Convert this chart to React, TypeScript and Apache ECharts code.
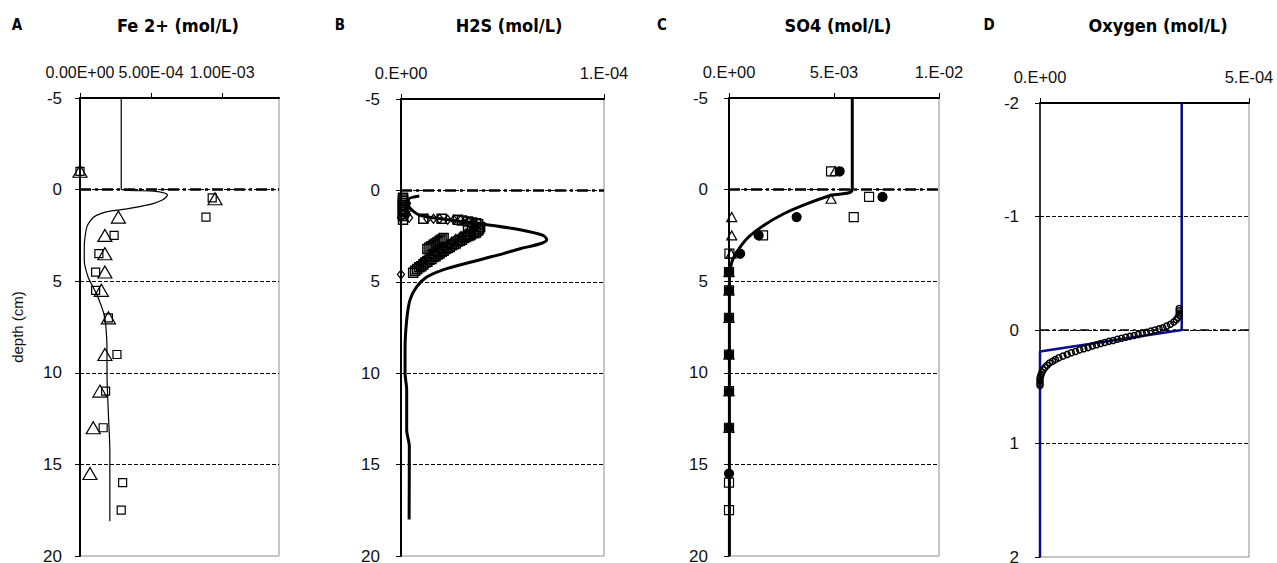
import React, { useEffect, useRef } from "react";
import * as echarts from "echarts";

// ---------- DATA ----------
// Panel A: Fe2+ (concentrations in units of 1e-3 mol/L), depth in cm
const FE_UNIT = 1e-3;
const feLineDepth = [-5, 0, 0.08, 0.2, 0.3, 0.42, 0.57, 0.75, 0.93, 1.05, 1.15, 1.3, 1.52, 1.98, 2.6, 3.2, 3.9, 4.8, 5.7, 7.0, 8.7, 10.1, 12.3, 14.2, 16.0, 18.1];
const feLineConc = [0.29, 0.29, 0.52, 0.6, 0.615, 0.605, 0.58, 0.52, 0.42, 0.33, 0.23, 0.15, 0.093, 0.051, 0.035, 0.03, 0.03, 0.058, 0.117, 0.175, 0.19, 0.19, 0.2, 0.21, 0.21, 0.21];
const feTriDepth = [-1, 0.5, 1.5, 2.5, 3.5, 4.5, 5.5, 7, 9, 11, 13, 15.5];
const feTriConc = [0, 0.95, 0.27, 0.175, 0.175, 0.175, 0.15, 0.2, 0.175, 0.14, 0.093, 0.07];
const feSqDepth = [-1, 0.45, 1.5, 2.5, 3.5, 4.5, 5.5, 7, 9, 11, 13, 16, 17.5];
const feSqConc = [0, 0.93, 0.886, 0.24, 0.133, 0.11, 0.11, 0.2, 0.26, 0.18, 0.163, 0.3, 0.29];

// Panel B: H2S (units of 1e-5 mol/L)
const H2S_UNIT = 1e-5;
const h2sLineConc = [0.9, 0.36, 0.41, 0.94, 2.25, 3.9, 5.86, 7.0, 7.18, 6.85, 5.86, 5.04, 3.9, 2.25, 1.27, 0.77, 0.44, 0.28, 0.2, 0.2, 0.28, 0.28, 0.41, 0.4];
const h2sLineDepth = [0.31, 0.51, 0.91, 1.37, 1.59, 1.83, 2.15, 2.46, 2.7, 2.92, 3.19, 3.46, 3.79, 4.28, 4.74, 5.28, 6.0, 7.1, 8.7, 10.0, 10.9, 13.1, 14.0, 18.0];
const h2sSqConc = [0.1, 0.1, 0.1, 0.1, 0.1, 0.1, 0.1, 0.1, 0.1, 0.1, 0.1, 0.1, 1.1, 2.0, 2.8, 3.0, 3.3, 3.5, 3.7, 3.8, 3.9, 3.85, 3.8, 3.7, 3.6, 3.45, 3.3, 3.2, 3.1, 3.0, 2.9, 2.8, 2.7, 2.6, 2.5, 2.4, 2.3, 2.2, 2.1, 2.0, 1.9, 1.8, 1.7, 1.6, 1.5, 1.4, 1.3, 1.2, 1.1, 1.0, 0.9, 0.8, 0.7, 0.6, 2.1, 2.0, 1.9, 1.8, 1.7, 1.6, 1.5, 1.4, 1.3, 3.5, 3.3, 3.6, 3.4];
const h2sSqDepth = [0.4, 0.5, 0.6, 0.7, 0.8, 0.9, 1.0, 1.1, 1.2, 1.3, 1.4, 1.6, 1.55, 1.55, 1.6, 1.65, 1.7, 1.75, 1.8, 1.85, 2.0, 2.1, 2.2, 2.3, 2.35, 2.4, 2.5, 2.55, 2.6, 2.7, 2.75, 2.8, 2.9, 2.95, 3.0, 3.1, 3.15, 3.2, 3.3, 3.35, 3.45, 3.5, 3.6, 3.65, 3.75, 3.8, 3.9, 3.95, 4.05, 4.15, 4.2, 4.3, 4.4, 4.5, 2.6, 2.68, 2.75, 2.83, 2.9, 2.98, 3.05, 3.13, 3.2, 1.95, 2.05, 2.25, 2.45];
const h2sDiaConc = [0.0, 0.0, 0.4, 1.3, 1.6, 1.9, 2.3, 2.6, 2.95, 3.3, 3.6, 3.7, 3.5, 3.2, 2.95, 2.7, 2.5, 2.3, 2.1, 1.9, 1.7, 1.5, 1.3, 1.1, 0.95, 0.8, 0.3, 0.3, 0.3];
const h2sDiaDepth = [4.6, 1.5, 1.5, 1.55, 1.55, 1.55, 1.6, 1.6, 1.62, 1.7, 1.85, 2.0, 2.2, 2.35, 2.5, 2.65, 2.8, 2.95, 3.1, 3.25, 3.4, 3.55, 3.7, 3.85, 4.0, 4.15, 0.7, 1.1, 1.3];

// Panel C: SO4 (units of 1e-3 mol/L)
const SO4_UNIT = 1e-3;
const so4LineConc = [5.87, 5.87, 4.86, 3.73, 2.61, 1.65, 0.85, 0.37, 0.13, 0.05, 0.02, 0.02];
const so4LineDepth = [-5, 0, 0.31, 0.77, 1.32, 1.96, 2.68, 3.41, 3.96, 4.5, 4.88, 20];
const so4SqConc = [4.86, 6.67, 5.94, 1.62, 0.02, 0, 0, 0, 0, 0, 0, 0, 0];
const so4SqDepth = [-1, 0.4, 1.5, 2.5, 3.5, 4.5, 5.5, 7, 9, 11, 13, 16, 17.5];
const so4CircConc = [5.27, 7.31, 3.22, 1.41, 0.53, 0, 0, 0, 0, 0, 0, 0];
const so4CircDepth = [-1, 0.4, 1.5, 2.5, 3.5, 4.5, 5.5, 7, 9, 11, 13, 15.5];
const so4TriConc = [5.05, 4.86, 0.13, 0.13, 0.1, 0, 0, 0, 0, 0, 0];
const so4TriDepth = [-1, 0.5, 1.5, 2.5, 3.5, 4.5, 5.5, 7, 9, 11, 13];

// Panel D: Oxygen (units of 1e-4 mol/L)
const O2_UNIT = 1e-4;
const o2LineConc = [3.39, 3.39, 0, 0];
const o2LineDepth = [-2, 0, 0.19, 2];
const o2PtsConc = [3.33, 3.33, 3.33, 3.33, 3.3, 3.26, 3.2, 3.12, 3.03, 2.94, 2.85, 2.75, 2.65, 2.55, 2.45, 2.35, 2.25, 2.15, 2.05, 1.95, 1.85, 1.75, 1.65, 1.55, 1.45, 1.35, 1.25, 1.15, 1.05, 0.95, 0.85, 0.75, 0.65, 0.55, 0.45, 0.37, 0.3, 0.23, 0.17, 0.12, 0.08, 0.05, 0.03, 0.01, 0, 0, 0, 0];
const o2PtsDepth = [-0.19, -0.17, -0.15, -0.13, -0.11, -0.09, -0.07, -0.05, -0.035, -0.02, -0.01, 0.0, 0.01, 0.02, 0.03, 0.04, 0.048, 0.056, 0.064, 0.073, 0.082, 0.092, 0.1, 0.11, 0.12, 0.13, 0.14, 0.155, 0.165, 0.175, 0.19, 0.2, 0.215, 0.23, 0.245, 0.26, 0.275, 0.29, 0.31, 0.33, 0.35, 0.37, 0.39, 0.41, 0.43, 0.45, 0.47, 0.49];

const panelLetters = ["A", "B", "C", "D"];
const panelTitles = ["Fe 2+ (mol/L)", "H2S (mol/L)", "SO4 (mol/L)", "Oxygen (mol/L)"];

// ---------- helpers ----------
function pairs(xs: number[], ys: number[], unit: number) {
  return xs.map((x, i) => [x * unit, ys[i]]);
}
function sci(v: number, d: number): string {
  if (Math.abs(v) < 1e-15) return (d > 0 ? "0." + "0".repeat(d) : "0.") + "E+00";
  const s = v.toExponential(d);
  const [m, e] = s.split("e");
  const sign = e[0] === "-" ? "-" : "+";
  const n = Math.abs(parseInt(e, 10));
  return (d > 0 ? m : m + ".") + "E" + sign + String(n).padStart(2, "0");
}

const FONT = "Liberation Sans";
const TITLE_FONT = "'Liberation Sans Narrow', 'DejaVu Sans Condensed', 'Liberation Sans', sans-serif";

export default function App() {
  const ref = useRef<HTMLDivElement>(null);
  useEffect(() => {
    document.body.style.margin = "0";
    if (!ref.current) return;
    const chart = echarts.init(ref.current, undefined, { renderer: "svg" });

    const grids = [
      { left: 80, top: 98, width: 199, height: 458 },
      { left: 401, top: 99, width: 203, height: 457 },
      { left: 729, top: 98, width: 210, height: 458 },
      { left: 1040, top: 103, width: 209, height: 454 },
    ].map((g) => ({ ...g, show: true, borderColor: "#8c8c8c", borderWidth: 1, outerBoundsMode: "none", containLabel: false }));

    const xCfg = [
      { max: 0.0014, interval: 0.0005, ticks: [0, 0.0005, 0.001], d: 2, fs: 16 },
      { max: 1e-4, interval: 1e-4, ticks: [0, 1e-4], d: 0, fs: 16.5 },
      { max: 0.01, interval: 0.005, ticks: [0, 0.005, 0.01], d: 0, fs: 16.5 },
      { max: 5e-4, interval: 5e-4, ticks: [0, 5e-4], d: 0, fs: 16.5 },
    ];
    const xAxes = xCfg.map((c, i) => ({
      gridIndex: i,
      type: "value",
      position: "top",
      min: 0,
      max: c.max,
      interval: c.interval,
      axisLine: { show: true, onZero: false, lineStyle: { color: "#000", width: 2 } },
      axisTick: { show: true, inside: false, length: 5, customValues: c.ticks, lineStyle: { color: "#000", width: 1 } },
      axisLabel: {
        show: true,
        customValues: c.ticks,
        margin: 18,
        fontSize: c.fs,
        fontFamily: FONT,
        color: "#111",
        formatter: (v: number) => (c.ticks.some((t) => Math.abs(t - v) < c.max * 1e-6) ? sci(v, c.d) : ""),
      },
      splitLine: { show: false },
    }));

    const yCfg = [
      { min: -5, max: 20, interval: 5, margin: 18, axisW: 2 },
      { min: -5, max: 20, interval: 5, margin: 21, axisW: 2 },
      { min: -5, max: 20, interval: 5, margin: 21, axisW: 2 },
      { min: -2, max: 2, interval: 1, margin: 21, axisW: 1.5 },
    ];
    const yAxes = yCfg.map((c, i) => ({
      gridIndex: i,
      type: "value",
      inverse: true,
      min: c.min,
      max: c.max,
      interval: c.interval,
      name: i === 0 ? "depth (cm)" : "",
      nameLocation: "middle",
      nameGap: 55,
      nameTextStyle: { fontSize: 15, fontFamily: FONT, color: "#111" },
      axisLine: { show: true, onZero: false, lineStyle: { color: "#000", width: c.axisW } },
      axisTick: { show: true, inside: false, length: 5, lineStyle: { color: "#000", width: 1 } },
      axisLabel: { margin: c.margin, fontSize: 17, fontFamily: FONT, color: "#111" },
      splitLine: { show: true, showMinLine: false, showMaxLine: false, lineStyle: { color: "#000", width: 1, type: [4, 2] } },
    }));

    const zeroLine = (i: number, xmax: number, width: number, dash: number[]) => ({
      type: "line",
      xAxisIndex: i,
      yAxisIndex: i,
      data: [[0, 0], [xmax, 0]],
      symbol: "none",
      silent: true,
      z: 1,
      lineStyle: { color: "#000", width, type: dash },
    });
    const curve = (i: number, data: number[][], width: number, color = "#000", smooth: number | boolean = false) => ({
      type: "line",
      xAxisIndex: i,
      yAxisIndex: i,
      data,
      symbol: "none",
      smooth,
      z: 3,
      lineStyle: { color, width },
    });
    const openPts = (i: number, data: number[][], symbol: string, size: number | number[], fill = "rgba(0,0,0,0)", bw = 1.2) => ({
      type: "scatter",
      xAxisIndex: i,
      yAxisIndex: i,
      data,
      symbol,
      symbolSize: size,
      z: 4,
      itemStyle: { color: fill, borderColor: "#000", borderWidth: bw, opacity: 1 },
    });

    const series = [
      zeroLine(0, 0.0014, 2.5, [11, 4, 3, 4]),
      curve(0, pairs(feLineConc, feLineDepth, FE_UNIT), 1.2, "#000", 0.2),
      openPts(0, pairs(feSqConc, feSqDepth, FE_UNIT), "rect", 8),
      openPts(0, pairs(feTriConc, feTriDepth, FE_UNIT), "triangle", [14, 12]),

      zeroLine(1, 1e-4, 2.5, [11, 4, 3, 4]),
      curve(1, pairs(h2sLineConc, h2sLineDepth, H2S_UNIT), 3, "#000", 0.3),
      openPts(1, pairs(h2sSqConc, h2sSqDepth, H2S_UNIT), "rect", 9, "rgba(0,0,0,0)", 1.5),
      openPts(1, pairs(h2sDiaConc, h2sDiaDepth, H2S_UNIT), "diamond", [7, 9], "rgba(0,0,0,0)", 1.3),

      zeroLine(2, 0.01, 2.5, [11, 4, 3, 4]),
      curve(2, pairs(so4LineConc, so4LineDepth, SO4_UNIT), 3, "#000", 0.3),
      openPts(2, pairs(so4SqConc, so4SqDepth, SO4_UNIT), "rect", 9),
      openPts(2, pairs(so4TriConc, so4TriDepth, SO4_UNIT), "triangle", [10, 9]),
      openPts(2, pairs(so4CircConc, so4CircDepth, SO4_UNIT), "circle", 9, "#000"),

      zeroLine(3, 5e-4, 1.5, [9, 4, 3, 4]),
      curve(3, pairs(o2LineConc, o2LineDepth, O2_UNIT), 2.5, "#0a0a8c"),
      openPts(3, pairs(o2PtsConc, o2PtsDepth, O2_UNIT), "circle", 6, "rgba(0,0,0,0)", 1.5),
    ];

    const letterX = [17, 340, 662, 989];
    const titleX = [178, 509, 838, 1158];
    const graphic: any[] = [];
    panelLetters.forEach((l, i) => {
      graphic.push({
        type: "text",
        x: letterX[i],
        y: 25,
        style: { text: l, font: `bold 15px ${TITLE_FONT}`, align: "center", verticalAlign: "middle", fill: "#000" },
      });
      graphic.push({
        type: "text",
        x: titleX[i],
        y: 25,
        style: { text: panelTitles[i], font: `bold 18px ${TITLE_FONT}`, align: "center", verticalAlign: "middle", fill: "#000" },
      });
    });

    chart.setOption({
      animation: false,
      backgroundColor: "#fff",
      grid: grids,
      xAxis: xAxes,
      yAxis: yAxes,
      series,
      graphic,
    } as any);
    return () => chart.dispose();
  }, []);
  return <div ref={ref} style={{ position: "absolute", left: 0, top: 0, width: 1277, height: 563 }} />;
}
